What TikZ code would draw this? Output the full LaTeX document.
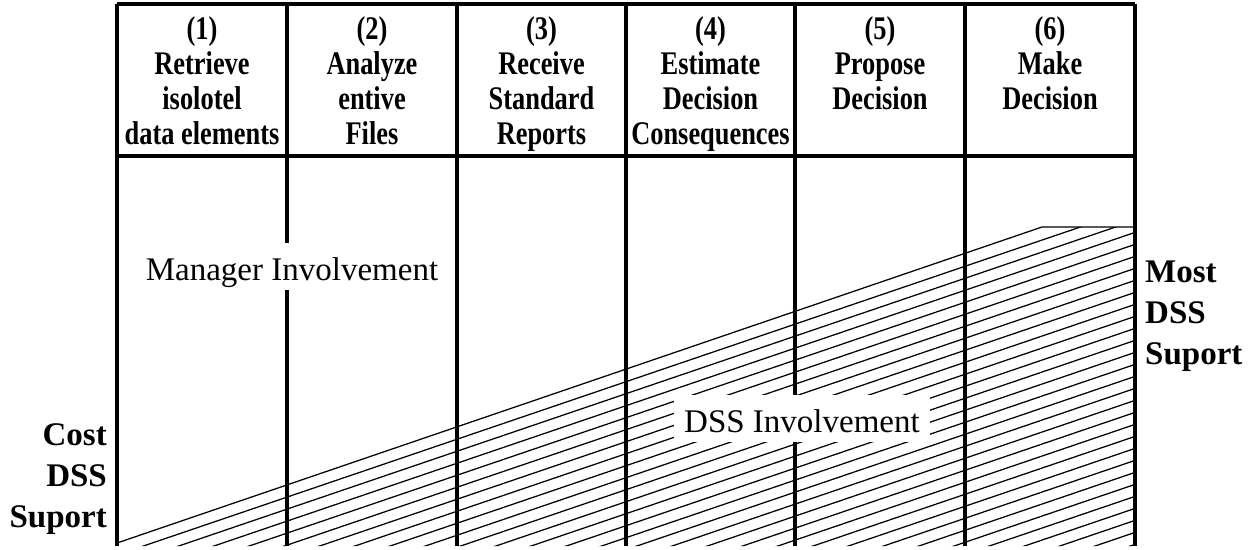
\documentclass[tikz,border=0pt]{standalone}
\usepackage{fontspec}
\setmainfont{Liberation Serif}
\newfontfamily\headfont[FakeStretch=0.8]{Liberation Serif}
\begin{document}
\begin{tikzpicture}[x=1pt,y=-1pt,
  grid/.style={line width=4pt},
  rule/.style={line width=3.5pt},
  hatch/.style={line width=1.25pt},
  head/.style={font=\headfont\bfseries\fontsize{33}{35}\selectfont,
               align=center, anchor=north, inner sep=0pt},
  sidelabel/.style={font=\bfseries\fontsize{33}{41}\selectfont, inner sep=0pt},
  zone/.style={font=\fontsize{33}{40}\selectfont, fill=white,
               text height=31pt, text depth=4pt, inner ysep=6pt, inner xsep=10pt, anchor=base}]
\useasboundingbox (0,0) rectangle (1250,549);

% column rule positions
\foreach \i/\x in {0/117,1/287,2/457,3/626,4/795,5/965,6/1135}{
  \coordinate (t\i) at (\x,4);
  \coordinate (m\i) at (\x,156);
  \coordinate (b\i) at (\x,546);
}

% corners of the DSS wedge
\coordinate (lo) at (117,543);
\coordinate (hi) at (1042,227);
\coordinate (hr) at (1135,227);

% hatched DSS wedge
\begin{scope}
  \clip (lo) -- (hi) -- (hr) -- (b6) -- (b0) -- cycle;
  \foreach \k in {1,...,30}
    \draw[hatch] (117,543+12*\k) -- ++(1018,-346.6);
\end{scope}
\draw[hatch] (lo) -- (hi) -- (hr);

% table frame
\draw[rule] (t0) -- (t6);
\draw[rule] (m0) -- (m6);
\foreach \i in {0,...,6}
  \draw[grid] (t\i) -- (b\i);

% column headings
\node[head] (h1) at (202,16) {(1)\\Retrieve\\isolotel\\data elements};
\node[head] (h2) at (372,16) {(2)\\Analyze\\entive\\Files};
\node[head] (h3) at (541.5,16) {(3)\\Receive\\Standard\\Reports};
\node[head] (h4) at (710.5,16) {(4)\\Estimate\\Decision\\Consequences};
\node[head] (h5) at (880,16) {(5)\\Propose\\Decision};
\node[head] (h6) at (1050,16) {(6)\\Make\\Decision};

% area labels
\node[zone] (mgr) at (292,280) {Manager Involvement};
\node[zone] (dss) at (802,432) {DSS Involvement};

% side labels
\node[sidelabel, align=right, anchor=south east] (cost) at (107,535) {Cost\\DSS\\Suport};
\node[sidelabel, align=left, anchor=north west] (most) at (1145,261) {Most\\DSS\\Suport};
\end{tikzpicture}
\end{document}
